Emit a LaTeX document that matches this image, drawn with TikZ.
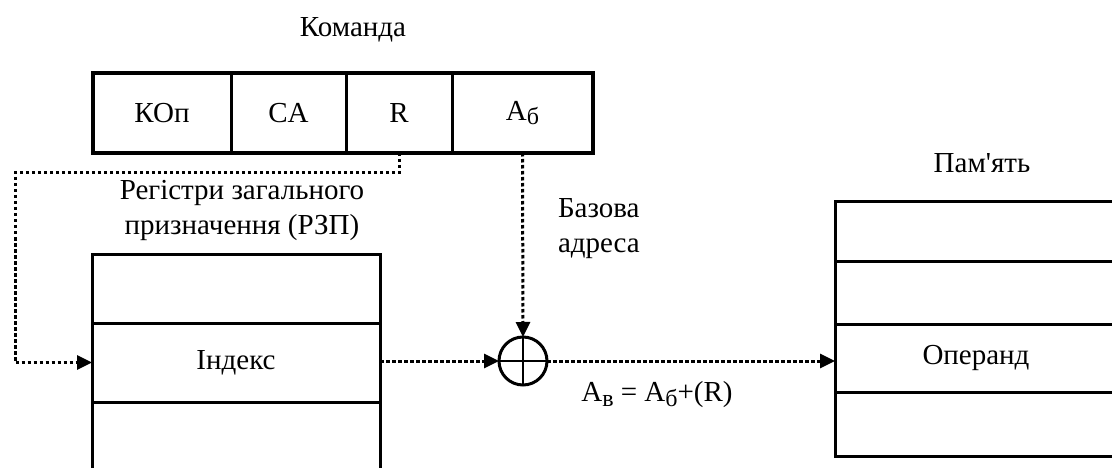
\documentclass[tikz,border=0pt]{standalone}
\usepackage{fontspec}
\setmainfont{Liberation Serif}
\usetikzlibrary{arrows.meta}
% lowered small letter used as an index (A_б, A_в)
\newcommand{\lowidx}[1]{\raisebox{-0.35ex}{\fontsize{24}{24}\selectfont #1}}
\begin{document}
\begin{tikzpicture}[x=1pt,y=-1pt,
  every node/.style={font=\rmfamily\fontsize{29}{35}\selectfont, inner sep=0pt, outer sep=0pt},
  field/.style={draw, line width=3pt, anchor=north west},
  cell/.style={draw, line width=3pt, anchor=north west},
  flow/.style={line width=3pt, dash pattern=on 3.5pt off 2.5pt,
               -{Triangle[length=15pt,width=14pt]}},
  label/.style={align=center}]
\clip (0,0) rectangle (1112,468);
\fill[white] (0,0) rectangle (1112,468);

% instruction word
\node[label] (cmdtitle) at (353,30) {Команда};
\node[field, minimum width=138pt, minimum height=80pt] (kop) at (93,73) {КОп};
\node[field, minimum width=115pt, minimum height=80pt] (ca) at (231,73) {CA};
\node[field, minimum width=106pt, minimum height=80pt] (rf) at (346,73) {R};
\node[field, minimum width=141pt, minimum height=80pt] (ab) at (452,73) {A\lowidx{б}};
\draw[line width=3.5pt] (kop.north west) rectangle (ab.south east);

% general purpose registers
\node[label] (regtitle) at (242,210) {Регістри загального\\призначення (РЗП)};
\node[cell, minimum width=288pt, minimum height=69pt] (reg1) at (92,254) {};
\node[cell, minimum width=288pt, minimum height=79pt] (idx) at (92,323) {Індекс};
\node[cell, minimum width=288pt, minimum height=100pt] (reg3) at (92,402) {};

% memory
\node[label] (memtitle) at (982,163) {Пам\textquotesingle ять};
\node[cell, minimum width=282pt, minimum height=59pt] (mem1) at (835,202) {};
\node[cell, minimum width=282pt, minimum height=63pt] (mem2) at (835,261) {};
\node[cell, minimum width=282pt, minimum height=68pt] (op) at (835,324) {Операнд};
\node[cell, minimum width=282pt, minimum height=64pt] (mem4) at (835,392) {};

% adder
\node[circle, draw, line width=3pt, minimum size=48pt] (sum) at (523,361) {};
\draw[line width=2.6pt] (sum.north) -- (sum.south);
\draw[line width=2.6pt] (sum.west) -- (sum.east);

% labels of the address computation
\node[anchor=west, align=left] (base) at (558,229) {Базова\\адреса};
\node (formula) at (657,395) {A\lowidx{в} = A\lowidx{б}+(R)};

% connectors
\coordinate (rdown) at (rf.south |- 0,173);
\coordinate (lcorner) at (15,173);
\draw[flow] (rf.south) -- (rdown) -- (lcorner) -- (lcorner |- idx.west) -- (idx.west);
\draw[flow] (ab.south) -- (sum.north);
\draw[flow] (idx.east |- sum.west) -- (sum.west);
\draw[flow] (sum.east) -- (sum.east -| op.west);
\end{tikzpicture}
\end{document}
